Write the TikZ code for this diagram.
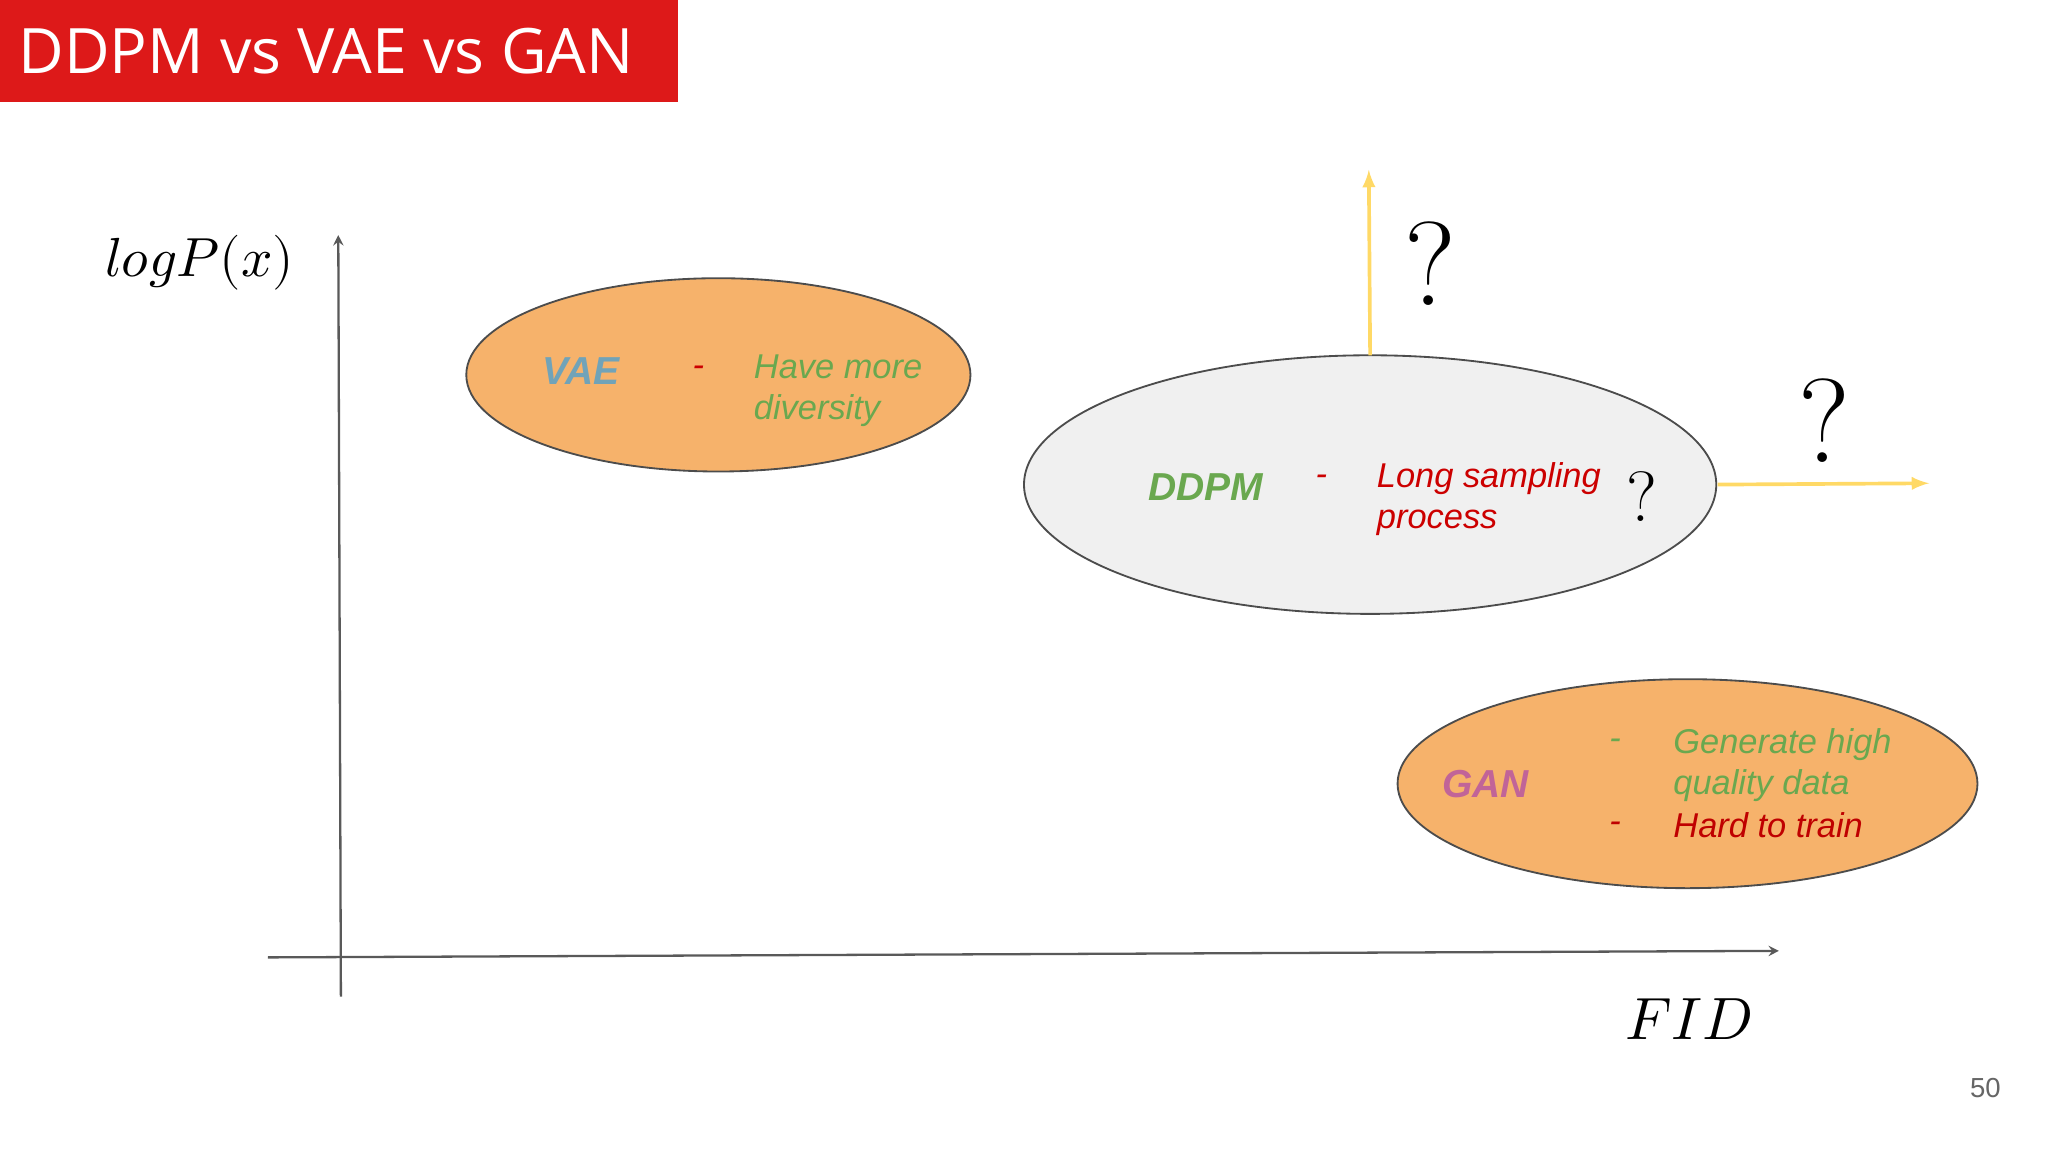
\documentclass[tikz,border=0pt]{standalone}
\usepackage{fontspec}
\setmainfont{Liberation Sans}
\newfontfamily\titlefont{Open Sans}
\newfontfamily\lmr{Latin Modern Roman}
\usepackage{unicode-math}
\definecolor{orng}{HTML}{F6B26B}
\definecolor{grn}{HTML}{6AA84F}
\definecolor{rd}{HTML}{CC0000}
\definecolor{yl}{HTML}{FFD966}
\begin{document}
\begin{tikzpicture}[x=0.02cm,y=-0.02cm,
  ell/.style={draw=black!70,line width=0.8pt},
  axis/.style={draw=black!65,line width=1pt,-stealth},
  yarr/.style={draw=yl,line width=1.6pt,-latex},
  lbl/.style={font=\fontsize{15}{18}\selectfont\itshape,align=left,anchor=west},
  q/.style={font=\lmr\fontsize{52}{52}\selectfont}]
\useasboundingbox (0,0) rectangle (1568,882);
\fill[red!85!black!90] (0,0) rectangle (519,78);
\node[anchor=west,text=white,font=\titlefont\fontsize{27.3}{32}\selectfont] (title) at (8,39) {DDPM vs VAE vs GAN};
\coordinate (yb) at (261,763); \coordinate (yt) at (259,180);
\coordinate (xl) at (205,733); \coordinate (xr) at (1362,728);
\draw[axis] (yb) -- (yt);
\draw[axis] (xl) -- (xr);
\node[font=\fontsize{24}{28}\selectfont] (ly) at (153,201) {$logP(x)$};
\node[font=\fontsize{26}{28}\selectfont] (lx) at (1293,780) {$FID$};
\draw[ell,fill=orng] (550,287) ellipse [x radius=193,y radius=74];
\draw[ell,fill=black!6] (1049,371) ellipse [x radius=265,y radius=99];
\draw[ell,fill=orng] (1292,600) ellipse [x radius=222,y radius=80];
\node[lbl,font=\fontsize{17}{20}\selectfont\bfseries\itshape,text=cyan!40!gray] (vae) at (409,284) {VAE};
\node[lbl,text=rd] (d1) at (524,284) {-};
\node[lbl,text=grn] (vt) at (571,299) {Have more\\diversity};
\node[lbl,font=\fontsize{17}{20}\selectfont\bfseries\itshape,text=grn] (ddpm) at (873,373) {DDPM};
\node[lbl,text=rd] (d2) at (1001,368) {-};
\node[lbl,text=rd] (dt) at (1048,382) {Long sampling\\process};
\node[font=\lmr\fontsize{31}{31}\selectfont] (qs) at (1257,380) {?};
\node[lbl,font=\fontsize{17}{20}\selectfont\bfseries\itshape,text=magenta!50!gray] (gan) at (1098,600) {GAN};
\node[lbl,text=grn] (d3) at (1226,570) {-};
\node[lbl,text=grn] (gt) at (1275,586) {Generate high\\quality data};
\node[lbl,text=red!75!black] (d4) at (1226,633) {-};
\node[lbl,text=red!75!black] (gt2) at (1275,632) {Hard to train};
\coordinate (a1) at (1049,272); \coordinate (a1e) at (1048,130);
\coordinate (a2) at (1315,371); \coordinate (a2e) at (1477,370);
\draw[yarr] (a1) -- (a1e);
\draw[yarr] (a2) -- (a2e);
\node[q] (q1) at (1095,202) {?};
\node[q] (q2) at (1397,322) {?};
\node[text=black!60,font=\fontsize{12}{14}\selectfont] (pg) at (1520,833) {50};
\end{tikzpicture}
\end{document}
